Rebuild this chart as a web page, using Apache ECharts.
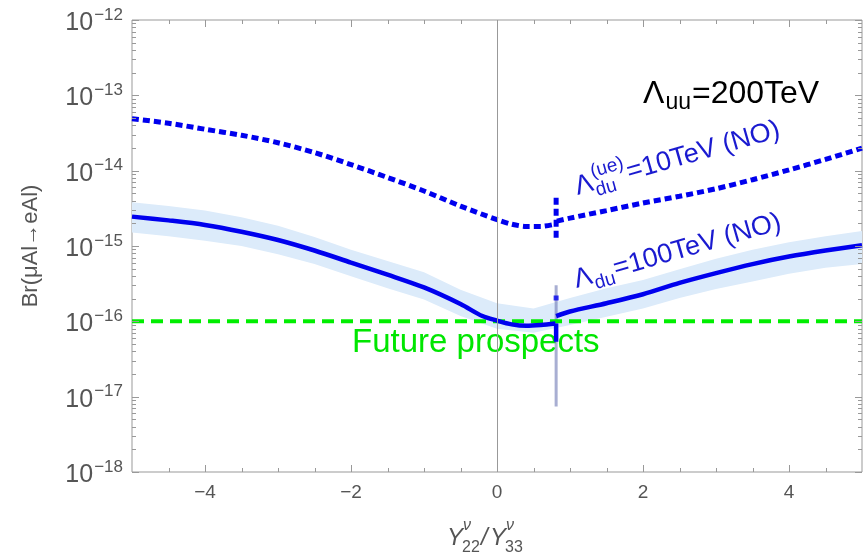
<!DOCTYPE html>
<html lang="en">
<head>
<meta charset="UTF-8">
<title>Br(μAl→eAl)</title>
<style>
  html, body { margin: 0; padding: 0; background: #fff; }
  #main { width: 868px; height: 554px; }
</style>
</head>
<body>
<div id="main"></div>
<script src="https://cdn.jsdelivr.net/npm/echarts@6/dist/echarts.min.js"></script>
<script>
  // y values are log10(Br), x is Y22/Y33
  var dottedLeft = [[-5,-13.31],[-4.5,-13.37],[-4,-13.45],[-3.5,-13.53],[-3,-13.63],[-2.5,-13.76],[-2,-13.92],
    [-1.5,-14.09],[-1,-14.27],[-0.5,-14.47],[0,-14.65],[0.2,-14.71],[0.4,-14.74],[0.6,-14.74],[0.8,-14.71]];
  var dottedRight = [[0.82,-14.67],[1,-14.63],[1.5,-14.53],[2,-14.43],[2.5,-14.34],[3,-14.24],
    [3.5,-14.12],[4,-13.99],[4.5,-13.85],[5,-13.70]];
  var dottedGlitch = [[0.81,-14.36],[0.81,-14.92]];
  var solidLeft = [[-5,-14.61],[-4.5,-14.66],[-4,-14.72],[-3.5,-14.81],[-3,-14.92],[-2.5,-15.06],[-2,-15.22],
    [-1.5,-15.38],[-1,-15.55],[-0.5,-15.77],[-0.2,-15.93],[0,-15.99],[0.2,-16.04],[0.4,-16.06],[0.6,-16.05],
    [0.8,-16.03]];
  var solidRight = [[0.81,-15.93],[1,-15.87],[1.5,-15.76],[2,-15.64],[2.5,-15.49],[3,-15.36],
    [3.5,-15.24],[4,-15.14],[4.5,-15.06],[5,-14.99]];
  var solidGlitch = [[0.81,-16.03],[0.81,-16.27]];
  var bandX    = [-5, -4.5, -4, -3.5, -3, -2.5, -2, -1.5, -1, -0.5, 0, 0.5, 1, 1.5, 2, 2.5, 3, 3.5, 4, 4.5, 5];
  var bandHigh = [-14.42,-14.47,-14.53,-14.62,-14.73,-14.88,-15.05,-15.20,-15.35,-15.58,-15.76,-15.83,-15.69,
    -15.56,-15.45,-15.31,-15.17,-15.05,-14.95,-14.87,-14.80];
  var bandLow  = [-14.82,-14.87,-14.93,-15.00,-15.11,-15.24,-15.40,-15.56,-15.71,-15.93,-16.10,-16.15,-16.05,
    -15.94,-15.83,-15.69,-15.57,-15.47,-15.37,-15.29,-15.24];
  var prospectLine = [[-5,-16],[5,-16]];
  var greyGlitch = [[0.81,-15.52],[0.81,-17.13]];
  var glitchDot = [[0.81,-15.69]];

  var xMajorTicks = [-4, -2, 0, 2, 4];
  var xMinorTicks = [-4.5, -3.5, -3, -2.5, -1.5, -1, -0.5, 0.5, 1, 1.5, 2.5, 3, 3.5, 4.5];
  var yMajorTicks = [-18, -17, -16, -15, -14, -13, -12];
  var yMinorTicks = [];
  yMajorTicks.slice(0, 6).forEach(function (n) {
    for (var k = 2; k <= 9; k++) yMinorTicks.push(n + Math.log10(k));
  });

  var tickData = [];
  xMajorTicks.forEach(function (v) { tickData.push([v, -18, 0]); });
  xMinorTicks.forEach(function (v) { tickData.push([v, -18, 1]); });
  yMajorTicks.forEach(function (v) { tickData.push([-5, v, 2]); });
  yMinorTicks.forEach(function (v) { tickData.push([-5, v, 3]); });

  var FONT = '"Liberation Sans", Arial, sans-serif';
  var gray = '#555';
  var frame = '#999';
  var blue = '#0000ee';

  var ctx = document.createElement('canvas').getContext('2d');
  function tw(s, size) {
    ctx.font = size + 'px ' + FONT;
    return ctx.measureText(s).width;
  }

  // text with its baseline at y (middle sits ~0.35em above baseline)
  function txt(x, y, s, size, color, extra) {
    var st = { text: s, fontSize: size, fontFamily: FONT, fill: color, align: 'left', verticalAlign: 'middle' };
    if (extra) for (var k in extra) st[k] = extra[k];
    return { type: 'text', x: x, y: y - 0.35 * size, style: st, silent: true };
  }

  function lambdaLabel(x0, y0, deg, size, color, sub, sup, rest) {
    var small = Math.round(size * 0.72);
    var wL = tw('Λ', size);
    var wS = Math.max(tw(sub, small), sup ? tw(sup, small) : 0);
    var kids = [txt(0, 0, 'Λ', size, color), txt(wL + 1, 0.22 * size, sub, small, color)];
    if (sup) kids.push(txt(wL + 1, -0.5 * size, sup, small, color));
    kids.push(txt(wL + wS + 2, 0, rest, size, color));
    return { type: 'group', x: x0, y: y0, rotation: deg * Math.PI / 180, children: kids };
  }

  function renderBand(params, api) {
    var pts = [];
    for (var i = 0; i < bandX.length; i++) pts.push(api.coord([bandX[i], bandHigh[i]]));
    for (var j = bandX.length - 1; j >= 0; j--) pts.push(api.coord([bandX[j], bandLow[j]]));
    return { type: 'polygon', shape: { points: pts }, style: { fill: '#dcebfa' } };
  }

  function renderTicks(params, api) {
    var cs = params.coordSys;
    var kind = api.value(2);
    var p = api.coord([api.value(0), api.value(1)]);
    var len = (kind === 0 || kind === 2) ? 7 : 4;
    var st = { stroke: frame, lineWidth: 1 };
    var x = Math.round(p[0]) + 0.5, y = Math.round(p[1]) + 0.5;
    var L = cs.x, R = cs.x + cs.width, T = cs.y, B = cs.y + cs.height;
    if (kind < 2) {
      return { type: 'group', children: [
        { type: 'line', shape: { x1: x, y1: B, x2: x, y2: B - len }, style: st },
        { type: 'line', shape: { x1: x, y1: T, x2: x, y2: T + len }, style: st }
      ] };
    }
    return { type: 'group', children: [
      { type: 'line', shape: { x1: L, y1: y, x2: L + len, y2: y }, style: st },
      { type: 'line', shape: { x1: R, y1: y, x2: R - len, y2: y }, style: st }
    ] };
  }

  function curve(data, width, dash, z, smooth) {
    return {
      type: 'line', data: data, symbol: 'none', silent: true, z: z, smooth: smooth || false,
      lineStyle: { color: blue, width: width, type: dash || 'solid' }
    };
  }

  var chart = echarts.init(document.getElementById('main'));

  var uuX = 643 + tw('Λ', 32) + 1;
  var option = {
    animation: false,
    backgroundColor: '#fff',
    grid: { left: 132, right: 6, top: 20, bottom: 82, show: true, borderColor: frame, borderWidth: 1 },
    xAxis: {
      type: 'value', min: -5, max: 5, interval: 1,
      axisLine: { show: false }, axisTick: { show: false }, splitLine: { show: false },
      axisLabel: {
        margin: 11, color: gray, fontSize: 19, fontFamily: FONT,
        formatter: function (v) {
          if (v % 2 !== 0) return '';
          return v < 0 ? '−' + (-v) : String(v);
        }
      }
    },
    yAxis: {
      type: 'value', min: -18, max: -12, interval: 1,
      axisLine: { show: false }, axisTick: { show: false }, splitLine: { show: false },
      name: 'Br(μAl→eAl)', nameLocation: 'middle', nameRotate: 90, nameGap: 90,
      nameTextStyle: { color: gray, fontSize: 22, fontFamily: FONT },
      axisLabel: {
        margin: 9, fontFamily: FONT,
        formatter: function (v) { return '{b|10}{s|−' + (-v) + '}'; },
        rich: {
          b: { fontSize: 25, color: gray, fontFamily: FONT, padding: [6, 0, 0, 0] },
          s: { fontSize: 17, color: gray, fontFamily: FONT, verticalAlign: 'bottom', padding: [0, 0, 12, 1] }
        }
      }
    },
    series: [
      {
        type: 'custom', renderItem: renderBand, data: [[0, -15]], silent: true, z: 1,
        markLine: {
          silent: true, symbol: 'none', label: { show: false },
          lineStyle: { color: frame, width: 1, type: 'solid' },
          data: [{ xAxis: 0 }]
        }
      },
      {
        type: 'line', data: greyGlitch, symbol: 'none', silent: true, z: 2,
        lineStyle: { color: 'rgba(110,120,180,0.6)', width: 3 }
      },
      {
        type: 'line', data: prospectLine, symbol: 'none', silent: true, z: 3,
        lineStyle: { color: '#00ee00', width: 4, type: [12, 7] }
      },
      curve(solidLeft, 4.5, null, 4, 0.3),
      curve(solidRight, 4.5, null, 4, 0.3),
      curve(solidGlitch, 4.5, null, 4),
      curve(dottedLeft, 5, [7, 4], 4, 0.3),
      curve(dottedRight, 5, [7, 4], 4, 0.3),
      curve(dottedGlitch, 5, [7, 4], 4),
      {
        type: 'scatter', data: glitchDot, symbol: 'rect', symbolSize: 5, silent: true, z: 5,
        itemStyle: { color: blue }
      },
      { type: 'custom', renderItem: renderTicks, data: tickData, silent: true, z: 6 }
    ],
    graphic: [
      txt(643, 105, 'Λ', 32, '#000'),
      txt(uuX, 111, 'uu', 23, '#000'),
      txt(uuX + tw('uu', 23) + 1, 105, '=200TeV', 32, '#000'),
      lambdaLabel(578, 197, 16, 27, '#1a1ad0', 'du', '(ue)', '=10TeV (NO)'),
      lambdaLabel(577, 290, 16, 27, '#1a1ad0', 'du', null, '=100TeV (NO)'),
      txt(352, 354, 'Future prospects', 33, '#00e600'),
      txt(447, 547, 'Y', 24, gray, { fontStyle: 'italic' }),
      txt(463, 531, 'ν', 16, gray, { fontStyle: 'italic' }),
      txt(462, 553, '22', 16, gray),
      txt(481, 547, '/', 24, gray, { fontStyle: 'italic' }),
      txt(490, 547, 'Y', 24, gray, { fontStyle: 'italic' }),
      txt(506, 531, 'ν', 16, gray, { fontStyle: 'italic' }),
      txt(505, 553, '33', 16, gray)
    ]
  };

  chart.setOption(option);
</script>
</body>
</html>
